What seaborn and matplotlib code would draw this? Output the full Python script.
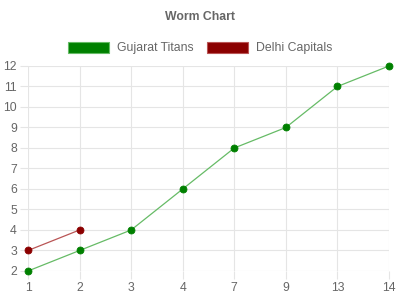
import matplotlib
matplotlib.use("Agg")
import matplotlib.pyplot as plt
import seaborn as sns
import pandas as pd
from matplotlib.patches import Patch

overs = ["1", "2", "3", "4", "7", "9", "13", "14"]
gujarat_titans = [2, 3, 4, 6, 8, 9, 11, 12]
delhi_overs = ["1", "2"]
delhi_capitals = [3, 4]
y_ticks = list(range(2, 13))

df = pd.concat([
    pd.DataFrame({"over": overs, "wickets": gujarat_titans, "team": "Gujarat Titans"}),
    pd.DataFrame({"over": delhi_overs, "wickets": delhi_capitals, "team": "Delhi Capitals"}),
], ignore_index=True)

sns.set_theme(style="white")
plt.rcParams['font.family'] = ['Liberation Sans', 'DejaVu Sans']

fig = plt.figure(figsize=(4, 3), dpi=100)
ax = fig.add_axes([0.07, 0.0967, 0.9025, 0.6833])

colors = {"Gujarat Titans": "#008000", "Delhi Capitals": "#8b0000"}
line_colors = {"Gujarat Titans": "#66bb66", "Delhi Capitals": "#b95555"}

for team in ["Gujarat Titans", "Delhi Capitals"]:
    sub = df[df.team == team]
    sns.lineplot(data=sub, x="over", y="wickets", ax=ax, color=line_colors[team],
                 linewidth=0.9, marker="o", markersize=5,
                 markerfacecolor=colors[team], markeredgecolor=colors[team],
                 markeredgewidth=0.6, sort=False, legend=False, zorder=3,
                 clip_on=False)

ax.set_xlim(0, len(overs) - 1)
ax.set_ylim(2, 12)
ax.set_xticks(range(len(overs)))
ax.set_xticklabels(overs)
ax.set_yticks(y_ticks)
ax.grid(True, color="#e5e5e5", linewidth=0.8)
for s in ax.spines.values():
    s.set_visible(False)
ax.tick_params(axis="both", colors="#e5e5e5", labelcolor="#666666", labelsize=8.8,
               length=6, width=0.8, direction="out", pad=2, bottom=True, left=True)
ax.set_xlabel("")
ax.set_ylabel("")

fig.text(0.5, 0.945, "Worm Chart", ha="center", va="center", fontsize=8.8,
         fontweight="bold", color="#666666")

handles = [
    Patch(facecolor="#008000", edgecolor="#66bb66", linewidth=0.8, label="Gujarat Titans"),
    Patch(facecolor="#8b0000", edgecolor="#b95555", linewidth=0.8, label="Delhi Capitals"),
]
leg = fig.legend(handles=handles, loc="center", bbox_to_anchor=(0.5, 0.84), ncol=2,
                 frameon=False, fontsize=8.8, handlelength=3.4, handleheight=1.0,
                 handletextpad=0.6, columnspacing=1.1, borderaxespad=0)
for t in leg.get_texts():
    t.set_color("#666666")

fig.savefig("out.png", dpi=100)
